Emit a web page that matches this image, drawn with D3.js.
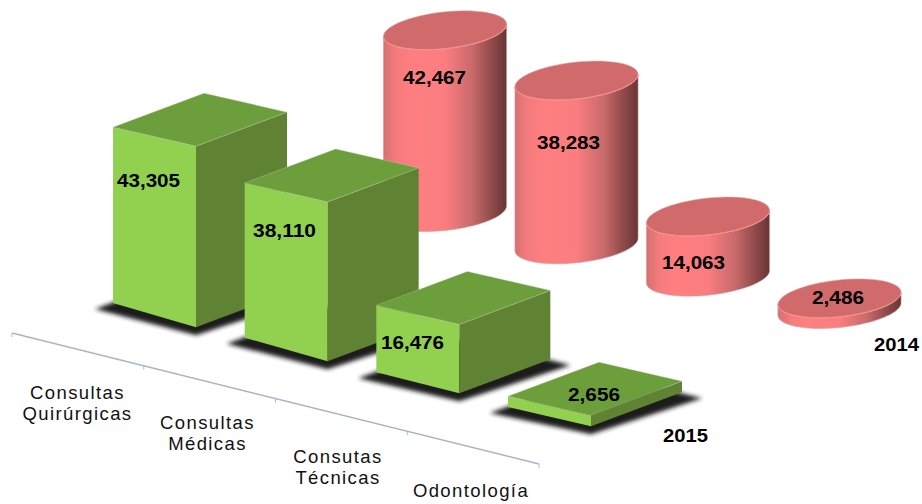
<!DOCTYPE html>
<html>
<head>
<meta charset="utf-8">
<script src="https://cdn.jsdelivr.net/npm/d3@7/dist/d3.min.js"></script>
<style>
  html, body { margin: 0; padding: 0; background: #fff; }
  svg { display: block; font-family: "Liberation Sans", Arial, sans-serif; }
</style>
</head>
<body>
<div id="chart"></div>
<script>
(() => {
  const width = 922, height = 504;

  const categories = ["Consultas Quirúrgicas", "Consultas Médicas", "Consutas Técnicas", "Odontología"];
  const values2015 = [43305, 38110, 16476, 2656];
  const values2014 = [42467, 38283, 14063, 2486];

  // label anchors
  const barLabelPos = [[117, 187], [253, 237], [381, 349], [568, 401]];
  const cylLabelPos = [[403, 84], [537, 149], [662, 269], [812, 304]];
  const catLabelLines = [["Consultas", "Quirúrgicas"], ["Consultas", "Médicas"], ["Consutas", "Técnicas"], ["Odontología"]];
  const catLabelPos = [[77.5, 399], [207.5, 429], [338, 463], [471, 497]];

  // oblique projection of the base square
  const right = [83, 19], depth = [91, -34];
  const nearEdge = 1.03; // the near vertical edges read a bit longer than the left one

  const barX = d3.scalePoint().domain(categories).range([113, 508]);
  const barY = d3.scalePoint().domain(categories).range([303, 407]);
  const barH = d3.scaleLinear().domain([0, 50000]).range([0, 203]);

  const cylX = d3.scalePoint().domain(categories).range([445, 839.5]);
  const cylY = d3.scalePoint().domain(categories).range([212, 309]);
  const cylH = d3.scaleLinear().domain([0, 50000]).range([0, 214]);

  const axisX = d3.scalePoint().domain(d3.range(5)).range([12, 539]);
  const axisY = d3.scalePoint().domain(d3.range(5)).range([333, 464]);

  const svg = d3.select("#chart").append("svg")
    .attr("width", width)
    .attr("height", height);

  const defs = svg.append("defs");
  defs.append("filter").attr("id", "blur")
    .attr("x", "-20%").attr("y", "-40%").attr("width", "140%").attr("height", "180%")
    .append("feGaussianBlur").attr("stdDeviation", 2);

  const grad = defs.append("linearGradient").attr("id", "cylSide")
    .attr("x1", 0).attr("x2", 1).attr("y1", 0).attr("y2", 0);
  [[0, "#d5706f"], [0.1, "#f47b7d"], [0.25, "#ff7f81"], [0.5, "#fb7d7f"],
   [0.72, "#c96a6b"], [0.88, "#8f4a4b"], [1, "#693535"]].forEach(([o, c]) => {
    grad.append("stop").attr("offset", o).attr("stop-color", c);
  });

  const line = d3.line();
  const poly = pts => line(pts) + "Z";
  const add = (p, v, k = 1) => [p[0] + v[0] * k, p[1] + v[1] * k];

  // cylinders (2014), behind the boxes
  const a = right[0] / 2, b = depth[0] / 2, c = right[1] / 2, d = depth[1] / 2;
  const rim = (cx, cy, t) => [cx + a * Math.cos(t) + b * Math.sin(t), cy + c * Math.cos(t) + d * Math.sin(t)];
  const t0 = Math.atan2(b, a);
  const steps = d3.range(0, 61).map(i => i / 60);

  const cyl = svg.append("g").selectAll("g")
    .data(categories.map((cat, i) => ({ cat, value: values2014[i] })))
    .join("g");

  cyl.append("path")
    .attr("fill", "url(#cylSide)")
    .attr("stroke", "#c9a5a5")
    .attr("stroke-width", 0.6)
    .attr("d", e => {
      const cx = cylX(e.cat), by = cylY(e.cat), ty = by - cylH(e.value);
      const bottom = steps.map(s => rim(cx, by, t0 + Math.PI + s * Math.PI));
      const top = steps.map(s => rim(cx, ty, t0 - s * Math.PI));
      return poly(top.concat(bottom));
    });

  cyl.append("path")
    .attr("fill", "#d16a6b")
    .attr("stroke", "#d9b0b0")
    .attr("stroke-width", 0.6)
    .attr("d", e => {
      const cx = cylX(e.cat), ty = cylY(e.cat) - cylH(e.value);
      return poly(steps.map(s => rim(cx, ty, s * 2 * Math.PI)));
    });

  cyl.append("path")
    .attr("fill", "none")
    .attr("stroke", "#ff8b8c")
    .attr("stroke-width", 1)
    .attr("d", e => {
      const cx = cylX(e.cat), ty = cylY(e.cat) - cylH(e.value);
      return line(steps.map(s => rim(cx, ty, t0 - s * Math.PI)));
    });

  // boxes (2015)
  const box = svg.append("g").selectAll("g")
    .data(categories.map((cat, i) => ({ cat, value: values2015[i] })))
    .join("g");

  box.each(function (e) {
    const g = d3.select(this);
    const h = barH(e.value);
    const fl = [barX(e.cat), barY(e.cat)];
    const flTop = [fl[0], fl[1] - h];
    const frTop = add(flTop, right);
    const brTop = add(frTop, depth);
    const blTop = add(flTop, depth);
    const fr = [frTop[0], frTop[1] + h * nearEdge];
    const br = [brTop[0], brTop[1] + h * nearEdge];

    g.append("path")
      .attr("fill", "#1c1c1c")
      .attr("filter", "url(#blur)")
      .attr("d", poly([add(fl, [-18, 6]), add(fr, [0, 8]), add(br, [20, 6]), add(fl, depth)]));

    g.append("path").attr("fill", "#92d050").attr("d", poly([fl, fr, frTop, flTop]));
    g.append("path").attr("fill", "#5f8233").attr("d", poly([fr, br, brTop, frTop]));
    g.append("path").attr("fill", "#6d9e3c").attr("stroke", "#b9c9a5").attr("stroke-width", 0.4)
      .attr("d", poly([flTop, frTop, brTop, blTop]));
  });

  // value labels, stretched a little wider than the plain bold face
  const valueText = (sel, w) => sel
    .attr("font-size", 18)
    .attr("font-weight", "bold")
    .attr("fill", "#000")
    .attr("textLength", w)
    .attr("lengthAdjust", "spacingAndGlyphs");

  values2015.forEach((v, i) => {
    svg.append("text").attr("x", barLabelPos[i][0]).attr("y", barLabelPos[i][1])
      .call(valueText, v < 10000 ? 52 : 63).text(d3.format(",")(v));
  });
  values2014.forEach((v, i) => {
    svg.append("text").attr("x", cylLabelPos[i][0]).attr("y", cylLabelPos[i][1])
      .call(valueText, v < 10000 ? 52 : 63).text(d3.format(",")(v));
  });

  svg.append("text").attr("x", 663).attr("y", 442).call(valueText, 45).text("2015");
  svg.append("text").attr("x", 874).attr("y", 351).call(valueText, 45).text("2014");

  // category axis
  const axis = svg.append("g");
  axis.append("line")
    .attr("x1", axisX(0)).attr("y1", axisY(0))
    .attr("x2", axisX(4)).attr("y2", axisY(4))
    .attr("stroke", "#a7b5c6")
    .attr("stroke-width", 1.5);
  axis.selectAll(".tick").data(d3.range(5)).join("line")
    .attr("class", "tick")
    .attr("x1", i => axisX(i)).attr("y1", i => axisY(i))
    .attr("x2", i => axisX(i)).attr("y2", i => axisY(i) + 4)
    .attr("stroke", "#9dc3e6");

  catLabelLines.forEach((lines, i) => {
    const t = svg.append("text")
      .attr("text-anchor", "middle")
      .attr("font-size", 18.5)
      .attr("letter-spacing", 1.4)
      .attr("fill", "#111");
    lines.forEach((l, j) => {
      t.append("tspan")
        .attr("x", catLabelPos[i][0])
        .attr("y", catLabelPos[i][1] + j * 20.5)
        .text(l);
    });
  });
})();
</script>
</body>
</html>
